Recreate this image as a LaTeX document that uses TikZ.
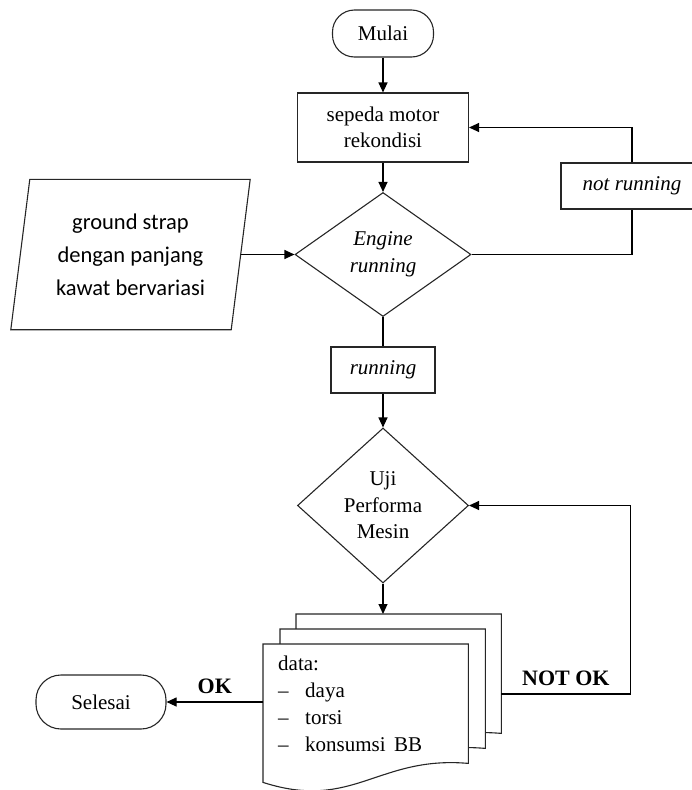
\documentclass[tikz,border=0pt]{standalone}
\usepackage{fontspec}
\setmainfont{Liberation Serif}
\newfontfamily\calibfont{Carlito}
\usetikzlibrary{shapes.geometric,arrows.meta,calc}
\newcommand\myfs{\fontsize{21}{26.5}\selectfont}
\begin{document}
\begin{tikzpicture}[x=1pt,y=-1pt,
  base/.style={draw=black!85, line width=1.1pt, font=\myfs, inner sep=0pt, align=center},
  term/.style={base, rectangle, rounded corners=22pt},
  procbox/.style={base, rectangle},
  decis/.style={base, diamond},
  pagebox/.style={rectangle, minimum width=205pt, minimum height=119pt, inner sep=0pt, anchor=north west},
  pageline/.style={draw=black!85, line width=1.1pt, fill=white},
  arr/.style={line width=1.1pt, -{Triangle[length=10pt,width=9pt]}},
  conn/.style={line width=1.1pt},
  lbl/.style={font=\fontsize{22}{24}\selectfont\bfseries}]
\useasboundingbox (0,0) rectangle (692,790);

% nodes
\node[term, minimum width=101pt, minimum height=47pt] (mulai) at (383,33.5) {Mulai};
\node[procbox, minimum width=171pt, minimum height=69pt] (rekon) at (383,127.5) {sepeda motor\\rekondisi};
\node[decis, minimum width=176pt, minimum height=124pt, aspect=1.42, font=\myfs\itshape] (engine) at (383,254.5) {Engine\\running};
\node[procbox, minimum width=142pt, minimum height=46pt, font=\myfs\itshape] (notrun) at (632,186) {not running};
\node[procbox, minimum width=104pt, minimum height=46pt, font=\myfs\itshape] (running) at (383,370) {running};
\node[decis, minimum width=171pt, minimum height=155pt, aspect=1.1] (uji) at (383,505.5) {Uji\\Performa\\Mesin};
\node[term, minimum width=130pt, minimum height=54pt, rounded corners=25pt] (selesai) at (101,702) {Selesai};

% input parallelogram
\node[minimum width=220pt, minimum height=150pt, inner sep=0pt, align=center,
      font=\calibfont\fontsize{22.5}{33}\selectfont] (gs) at (130.5,254.5) {ground strap\\dengan panjang\\kawat bervariasi};
\draw[draw=black!85, line width=1.1pt] ($(gs.north west)+(9.5,0)$) -- ($(gs.north east)+(9.5,0)$)
  -- ($(gs.south east)+(-9.5,0)$) -- ($(gs.south west)+(-9.5,0)$) -- cycle;

% multi-document
\node[pagebox] (page3) at (296,614) {};
\node[pagebox] (page2) at (280,629) {};
\node[pagebox] (page1) at (263,644) {};
\foreach \pg in {page3,page2,page1}{
  \draw[pageline] (\pg.north west) -- (\pg.north east) -- (\pg.south east)
    .. controls ($(\pg.south west)+(115,-8)$) and ($(\pg.south west)+(90,48)$) .. ($(\pg.south west)+(0,19)$) -- cycle;
}
\node[text width=175pt, align=left, inner sep=0pt, font=\myfs\fontsize{21}{27}\selectfont] (datatext) at (page1) {data:\\\makebox[27pt][l]{–}daya\\\makebox[27pt][l]{–}torsi\\\makebox[27pt][l]{–}konsumsi\hspace{0.4em}BB};

% connectors
\draw[arr] (mulai) -- (rekon);
\draw[arr] (rekon) -- (engine);
\draw[arr] (gs.east) -- (engine.west);
\draw[conn] (engine.east) -| (notrun.south);
\draw[arr] (notrun.north) |- (rekon.east);
\draw[conn] (engine.south) -- (running.north);
\draw[arr] (running.south) -- (uji.north);
\draw[arr] (uji.south) -- (uji.south |- page3.north);
\coordinate (nk) at ($(page3.north east)+(0,80)$);
\draw[arr] (nk) -- ++(129,0) node[lbl, midway, above=4pt] {NOT OK} |- (uji.east);
\draw[arr] (page1.west |- selesai.east) -- (selesai.east) node[lbl, midway, above=4pt] {OK};
\end{tikzpicture}
\end{document}
